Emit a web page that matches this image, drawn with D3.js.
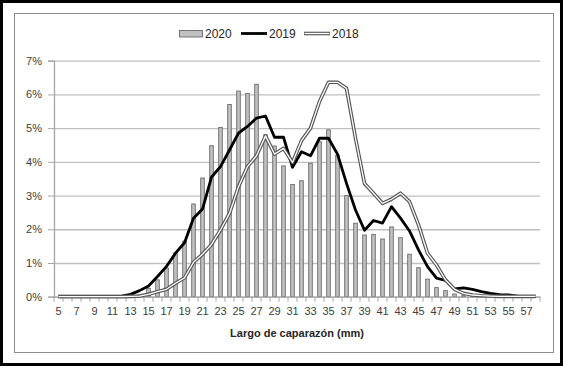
<!DOCTYPE html>
<html><head><meta charset="utf-8">
<script src="https://cdn.jsdelivr.net/npm/d3@7"></script>
<style>
html,body{margin:0;padding:0;background:#fff;}
svg{display:block;font-family:"Liberation Sans",Arial,sans-serif;}
</style></head>
<body>
<script>
const categories = d3.range(5, 59); // 5..58 mm
const tickLabels = d3.range(5, 58, 2);
const yTicks = [0,0.01,0.02,0.03,0.04,0.05,0.06,0.07];
const seriesNames = ["2020","2019","2018"];
// values in %
const v2020 = [0,0,0,0,0,0,0,0,0.01,0.05,0.25,0.5,0.85,1.3,1.65,2.75,3.52,4.48,5.02,5.7,6.1,6.03,6.3,4.8,4.47,3.88,3.33,3.44,3.96,4.6,4.95,4.2,3.0,2.18,1.83,1.85,1.71,2.07,1.75,1.26,0.86,0.52,0.27,0.18,0.08,0.03,0.01,0.01,0,0,0,0,0,0];
const v2019 = [0.02,0.02,0.02,0.02,0.02,0.02,0.02,0.02,0.07,0.18,0.32,0.6,0.9,1.29,1.6,2.33,2.6,3.55,3.86,4.35,4.85,5.05,5.3,5.36,4.73,4.73,3.84,4.3,4.18,4.7,4.7,4.23,3.36,2.57,1.97,2.26,2.18,2.67,2.33,1.95,1.39,0.89,0.55,0.48,0.23,0.26,0.22,0.15,0.1,0.06,0.05,0.02,0.01,0.01];
const v2018 = [0,0,0,0,0,0,0,0,0.01,0.02,0.07,0.15,0.22,0.4,0.56,1.02,1.26,1.55,1.98,2.47,3.26,3.86,4.18,4.77,4.23,4.4,3.98,4.63,5.0,5.79,6.36,6.36,6.18,4.7,3.36,3.07,2.77,2.89,3.07,2.82,2.13,1.29,0.94,0.5,0.22,0.1,0.05,0.03,0.02,0.01,0.01,0.01,0.01,0.01];

const W = 563, H = 366;
const svg = d3.select("body").append("svg").attr("width", W).attr("height", H);

// outer black frame and chart area border
svg.append("rect").attr("x",1.5).attr("y",1.5).attr("width",W-3).attr("height",H-3)
  .attr("fill","#fff").attr("stroke","#000").attr("stroke-width",3);
svg.append("rect").attr("x",14.5).attr("y",13.5).attr("width",539).attr("height",339)
  .attr("fill","none").attr("stroke","#8c8c8c").attr("stroke-width",1);

const L = 54, R = 540, T = 60.7, B = 296.7;
const x = d3.scaleBand().domain(categories).range([L, R]).padding(0);
const y = d3.scaleLinear().domain([0, 0.07]).range([B, T]);

// gridlines
const grid = svg.append("g").attr("transform", `translate(${L},0)`)
  .call(d3.axisLeft(y).tickValues(yTicks).tickSize(-(R-L)).tickFormat(""));
grid.select(".domain").remove();
grid.selectAll("line").attr("stroke","#c0c0c0").attr("stroke-width",1.3);

// y axis
const ya = svg.append("g").attr("transform", `translate(${L},0)`)
  .call(d3.axisLeft(y).tickValues(yTicks).tickSize(6).tickPadding(6).tickFormat(d3.format(".0%")));
ya.select(".domain").attr("stroke","#a6a6a6").attr("stroke-width",1.3);
ya.selectAll("line").attr("stroke","#a6a6a6");
ya.selectAll("text").attr("font-size",11).attr("fill","#404040").attr("font-family","Liberation Sans, Arial, sans-serif");

// bars 2020
const bw = 3.6;
svg.append("g").selectAll("rect").data(categories).join("rect")
  .attr("x", (c) => x(c) + x.bandwidth()/2 - bw/2)
  .attr("y", (c,i) => y(v2020[i]/100))
  .attr("width", bw)
  .attr("height", (c,i) => B - y(v2020[i]/100))
  .attr("fill", "#c0c0c0").attr("stroke", "#6b6b6b").attr("stroke-width", 0.9);

// x axis
const xa = svg.append("g").attr("transform", `translate(0,${B})`)
  .call(d3.axisBottom(x).tickValues(tickLabels).tickSize(0).tickPadding(11));
xa.select(".domain").attr("stroke","#a6a6a6").attr("stroke-width",1.3);
xa.selectAll("text").attr("font-size",11).attr("fill","#404040").attr("font-family","Liberation Sans, Arial, sans-serif");
// category boundary tick marks
svg.append("g").selectAll("line").data(categories.concat(["end"])).join("line")
  .attr("x1", (c) => c === "end" ? R : x(c)).attr("x2", (c) => c === "end" ? R : x(c))
  .attr("y1", B).attr("y2", B + 5)
  .attr("stroke","#a6a6a6").attr("stroke-width",1);

const line = d3.line().x((d) => x(d[0]) + x.bandwidth()/2).y((d) => y(d[1]/100));
const d2019 = categories.map((c,i) => [c, v2019[i]]);
const d2018 = categories.map((c,i) => [c, v2018[i]]);

svg.append("path").attr("d", line(d2019)).attr("fill","none")
  .attr("stroke","#000").attr("stroke-width",2.8).attr("stroke-linejoin","round");
svg.append("path").attr("d", line(d2018)).attr("fill","none")
  .attr("stroke","#555").attr("stroke-width",3.6).attr("stroke-linejoin","round");
svg.append("path").attr("d", line(d2018)).attr("fill","none")
  .attr("stroke","#fff").attr("stroke-width",1.3).attr("stroke-linejoin","round");

// axis title
svg.append("text").attr("x", (L+R)/2).attr("y", 337).attr("text-anchor","middle")
  .attr("font-size",11).attr("font-weight","bold").attr("fill","#262626")
  .text("Largo de caparazón (mm)");

// legend
const lg = svg.append("g").attr("font-size",12).attr("fill","#262626");
lg.append("rect").attr("x",179.5).attr("y",30.5).attr("width",23).attr("height",6.5)
  .attr("fill","#c0c0c0").attr("stroke","#6b6b6b").attr("stroke-width",0.9);
lg.append("text").attr("x",205).attr("y",38).text(seriesNames[0]);
lg.append("line").attr("x1",241).attr("x2",267).attr("y1",33.5).attr("y2",33.5)
  .attr("stroke","#000").attr("stroke-width",2.8);
lg.append("text").attr("x",269).attr("y",38).text(seriesNames[1]);
lg.append("line").attr("x1",304).attr("x2",330).attr("y1",33.5).attr("y2",33.5)
  .attr("stroke","#555").attr("stroke-width",3.6);
lg.append("line").attr("x1",304.5).attr("x2",329.5).attr("y1",33.5).attr("y2",33.5)
  .attr("stroke","#fff").attr("stroke-width",1.3);
lg.append("text").attr("x",332).attr("y",38).text(seriesNames[2]);
</script>
</body></html>
